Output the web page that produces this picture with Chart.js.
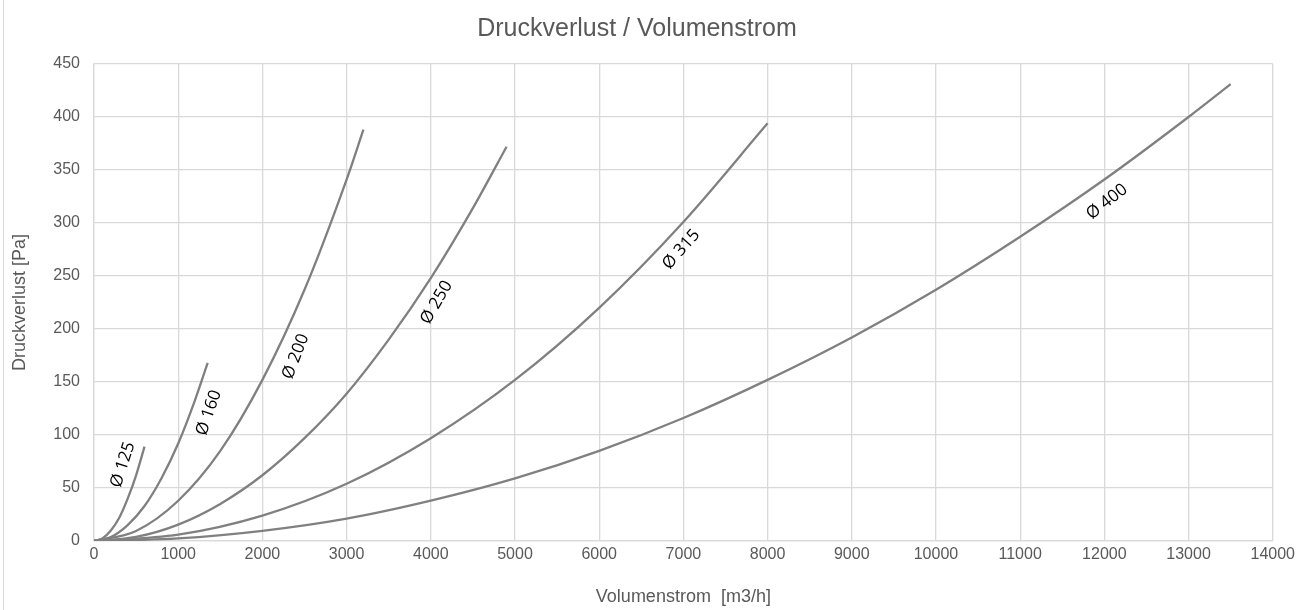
<!DOCTYPE html>
<html>
<head>
<meta charset="utf-8">
<script src="https://cdn.jsdelivr.net/npm/chart.js@4.4.1/dist/chart.umd.min.js"></script>
<style>
  html, body { margin:0; padding:0; background:#fff; }
  #wrap { position:relative; width:1299px; height:610px; }
  #frame { position:absolute; left:3px; top:0; width:0; height:610px; border-left:1px solid #d9d9d9; }
</style>
</head>
<body>
<div id="wrap">
  <canvas id="chart" width="1299" height="610"></canvas>
  <div id="frame"></div>
</div>
<script>
// Druckverlust über Volumenstrom, je Rohrdurchmesser
const volumen125 = [0, 100, 200, 300, 400, 500, 600];
const druck125   = [0, 2.5, 10, 22, 40, 62, 89];

const volumen160 = [0, 200, 400, 600, 800, 1000, 1200, 1350];
const druck160   = [0, 3.7, 15, 33, 59, 92, 133, 168];

const volumen200 = [0, 500, 1000, 1500, 2000, 2500, 3000, 3200];
const druck200   = [0, 9.5, 38, 85, 152, 237, 341, 388];

const volumen250 = [0, 500, 1000, 1500, 2000, 2500, 3000, 3500, 4000, 4500, 4900];
const druck250   = [0, 3.9, 15.5, 35, 62, 97, 139, 190, 248, 314, 372];

const volumen315 = [0, 1000, 2000, 3000, 4000, 5000, 6000, 7000, 8000];
const druck315   = [0, 6, 24, 54, 97, 152, 220, 301, 394];

const volumen400 = [0, 1000, 2000, 3000, 4000, 5000, 6000, 7000, 8000, 9000, 10000, 11000, 12000, 13000, 13500];
const druck400   = [0, 2.4, 9.5, 21, 38, 59, 85, 116, 152, 192, 237, 287, 341, 400, 431];

// curve labels, placed in data units
const labelText = ['Ø 125', 'Ø 160', 'Ø 200', 'Ø 250', 'Ø 315', 'Ø 400'];
const labelVol  = [344, 1364, 2396, 4069, 6976, 12030];
const labelDruck = [72, 121, 174, 225, 275, 320];
const labelAngle = [-72, -71, -69, -60, -48, -38];

const series = [
  [volumen125, druck125],
  [volumen160, druck160],
  [volumen200, druck200],
  [volumen250, druck250],
  [volumen315, druck315],
  [volumen400, druck400]
];

const gray = '#808080';
const textGray = '#595959';
const gridGray = '#d9d9d9';
const sans = '"Liberation Sans", Arial, sans-serif';

const datasets = series.map((s, i) => ({
  label: labelText[i],
  data: s[0].map((v, k) => ({ x: v, y: s[1][k] })),
  showLine: true,
  borderColor: gray,
  borderWidth: 2.3,
  pointRadius: 0,
  cubicInterpolationMode: 'monotone',
  fill: false
}));

const curveLabels = {
  id: 'curveLabels',
  afterDatasetsDraw(chart) {
    const ctx = chart.ctx;
    const xs = chart.scales.x, ys = chart.scales.y;
    ctx.save();
    ctx.font = '17px "Open Sans"';
    ctx.fillStyle = '#000';
    ctx.textAlign = 'center';
    ctx.textBaseline = 'middle';
    for (let i = 0; i < labelText.length; i++) {
      ctx.save();
      ctx.translate(xs.getPixelForValue(labelVol[i]), ys.getPixelForValue(labelDruck[i]));
      ctx.rotate(labelAngle[i] * Math.PI / 180);
      ctx.fillText(labelText[i], 0, 0);
      ctx.restore();
    }
    ctx.restore();
  }
};

new Chart(document.getElementById('chart'), {
  type: 'scatter',
  data: { datasets },
  options: {
    responsive: false,
    animation: false,
    layout: { padding: { left: 0, right: 25, top: 0, bottom: 0 } },
    plugins: {
      legend: { display: false },
      tooltip: { enabled: false },
      title: {
        display: true,
        text: 'Druckverlust / Volumenstrom',
        color: textGray,
        font: { family: sans, size: 25, weight: 'normal' },
        padding: { top: 14, bottom: 20 }
      }
    },
    scales: {
      x: {
        type: 'linear',
        min: 0, max: 14000,
        ticks: { stepSize: 1000, color: textGray, padding: 4,
          font: { family: sans, size: 16 },
          callback: v => String(v) },
        grid: { color: gridGray, lineWidth: 1.3, drawTicks: false, tickLength: 0 },
        border: { color: gridGray, width: 1.3 },
        title: { display: true, text: 'Volumenstrom  [m3/h]', color: textGray,
          font: { family: sans, size: 18 },
          padding: { top: 4, bottom: 2 } },
        afterFit(scale) { scale.height = 69; }
      },
      y: {
        min: 0, max: 450,
        ticks: { stepSize: 50, color: textGray, padding: 14,
          font: { family: sans, size: 16 },
          callback: v => String(v) },
        grid: { color: gridGray, lineWidth: 1.3, drawTicks: false, tickLength: 0 },
        border: { color: gridGray, width: 1.3 },
        title: { display: true, text: 'Druckverlust [Pa]', color: textGray,
          font: { family: sans, size: 18 },
          padding: { top: 9, bottom: 4 } },
        afterFit(scale) { scale.width = 94; }
      }
    }
  },
  plugins: [curveLabels]
});
</script>
</body>
</html>
